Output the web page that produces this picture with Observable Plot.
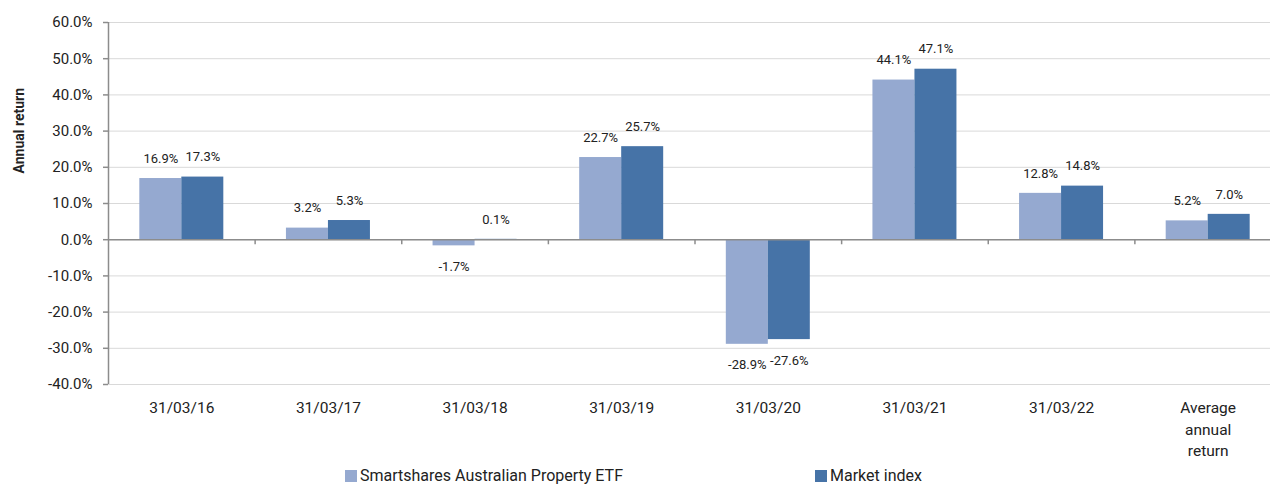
<!DOCTYPE html>
<html>
<head>
<meta charset="utf-8">
<script src="https://cdn.jsdelivr.net/npm/d3@7"></script>
<script src="https://cdn.jsdelivr.net/npm/@observablehq/plot@0.6"></script>
<style>
  html, body { margin: 0; padding: 0; background: #fff; overflow: hidden; }
  #wrap { position: relative; width: 1270px; height: 485px; overflow: hidden; font-family: Roboto, sans-serif; color: #222; }
  #wrap svg { max-width: none !important; display: block; }
  .leg { position: absolute; top: 468px; font-size: 16px; line-height: 16px; white-space: nowrap; display: flex; align-items: center; }
  .sw { display: inline-block; width: 12px; height: 12px; margin-right: 3px; }
</style>
</head>
<body>
<div id="wrap"></div>
<script>
const categories = ["31/03/16", "31/03/17", "31/03/18", "31/03/19", "31/03/20", "31/03/21", "31/03/22", "Average\nannual\nreturn"];
const series = ["Smartshares Australian Property ETF", "Market index"];
const etfValues = [16.9, 3.2, -1.7, 22.7, -28.9, 44.1, 12.8, 5.2];
const marketValues = [17.3, 5.3, 0.1, 25.7, -27.6, 47.1, 14.8, 7.0];
const yTicks = [-40, -30, -20, -10, 0, 10, 20, 30, 40, 50, 60];
const colors = ["#95A9D0", "#4673A7"];

const W = 1281, ML = 108, MR = 0, MT = 22, MB = 76, H = 460;
const step = (W - ML - MR) / categories.length;
const barW = 42;
const outer = (step - 2 * barW) / 2;

const etfRows = categories.map((c, i) => ({cat: c, v: etfValues[i]}));
const mktRows = categories.map((c, i) => ({cat: c, v: marketValues[i]}));
const fmt = v => v.toFixed(1) + "%";

const chart = Plot.plot({
  width: W, height: H,
  marginLeft: ML, marginRight: MR, marginTop: MT, marginBottom: MB,
  style: {fontFamily: "Roboto, sans-serif", color: "#222", background: "#fff", maxWidth: "none"},
  x: {type: "band", domain: categories, padding: 0, round: false},
  y: {domain: [-40, 60], ticks: yTicks},
  marks: [
    Plot.gridY(yTicks, {stroke: "#D9D9D9", strokeOpacity: 1, strokeWidth: 1}),
    Plot.barY(etfRows, {x: "cat", y: "v", fill: colors[0], insetLeft: outer, insetRight: outer + barW}),
    Plot.barY(mktRows, {x: "cat", y: "v", fill: colors[1], insetLeft: outer + barW, insetRight: outer}),
    Plot.ruleY([0], {stroke: "#8C8C8C", strokeWidth: 1.5}),
    Plot.ruleX(categories.slice(1), {x: d => d, dx: -step / 2, y1: 0, y2: -1.4, stroke: "#8C8C8C", strokeWidth: 1.5}),
    Plot.ruleX([categories[0]], {x: d => d, dx: -step / 2, y1: -40, y2: 60, stroke: "#8C8C8C", strokeWidth: 1.5}),
    Plot.axisY(yTicks, {tickFormat: fmt, tickSize: 5, tickPadding: 11, fontSize: 15, stroke: "#8C8C8C", strokeWidth: 1.5, fill: "#222", label: null}),
    Plot.axisX({tickSize: 0, tickPadding: 14, fontSize: 15.5, lineHeight: 1.36, fill: "#222", label: null}),
    Plot.text(["Annual return"], {frameAnchor: "top-left", rotate: -90, dx: -94, dy: 151, fontSize: 14, fontWeight: "bold", fill: "#222"}),
    Plot.text(etfRows.filter(d => d.v >= 0), {x: "cat", y: "v", text: d => fmt(d.v), dx: -(barW / 2), dy: -20, fontSize: 13, fill: "#222"}),
    Plot.text(etfRows.filter(d => d.v < 0), {x: "cat", y: "v", text: d => fmt(d.v), dx: -(barW / 2), dy: 21, fontSize: 13, fill: "#222"}),
    Plot.text(mktRows.filter(d => d.v >= 0), {x: "cat", y: "v", text: d => fmt(d.v), dx: barW / 2, dy: -20, fontSize: 13, fill: "#222"}),
    Plot.text(mktRows.filter(d => d.v < 0), {x: "cat", y: "v", text: d => fmt(d.v), dx: barW / 2, dy: 21, fontSize: 13, fill: "#222"})
  ]
});

const wrap = document.getElementById("wrap");
wrap.appendChild(chart);

const legendLeft = [345, 815];
series.forEach((s, i) => {
  const item = document.createElement("div");
  item.className = "leg";
  item.style.left = legendLeft[i] + "px";
  const sw = document.createElement("span");
  sw.className = "sw";
  sw.style.background = colors[i];
  item.appendChild(sw);
  const t = document.createElement("span");
  t.textContent = s;
  item.appendChild(t);
  wrap.appendChild(item);
});
</script>
</body>
</html>
